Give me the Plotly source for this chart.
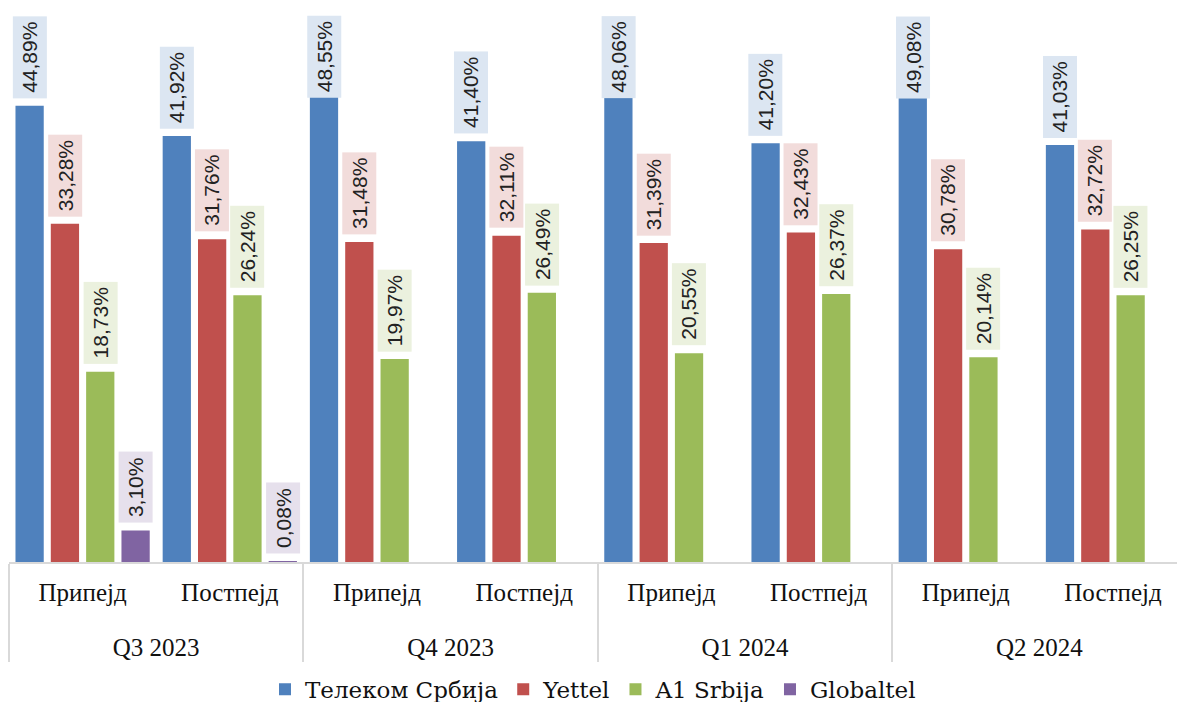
import plotly.graph_objects as go

quarters = ["Q3 2023", "Q3 2023", "Q4 2023", "Q4 2023", "Q1 2024", "Q1 2024", "Q2 2024", "Q2 2024"]
types = ["Припејд", "Постпејд"] * 4

telekom = [44.89, 41.92, 48.55, 41.40, 48.06, 41.20, 49.08, 41.03]
yettel = [33.28, 31.76, 31.48, 32.11, 31.39, 32.43, 30.78, 32.72]
a1 = [18.73, 26.24, 19.97, 26.49, 20.55, 26.37, 20.14, 26.25]
globaltel = [3.10, 0.08, None, None, None, None, None, None]

series_names = ["Телеком Србија", "Yettel", "A1 Srbija", "Globaltel"]
series_values = [telekom, yettel, a1, globaltel]
colors = ["#4F81BD", "#C0504D", "#9BBB59", "#8064A2"]
label_bg = ["#DCE6F2", "#F2DCDB", "#EBF1DE", "#E6E0EC"]

BARGAP = 0.04
LABEL_CAP = 44.89  # labels cannot rise above the chart top
SERIF = "Liberation Serif"
LEGEND_FONT = "DejaVu Serif"

fig = go.Figure()
for name, vals, col in zip(series_names, series_values, colors):
    fig.add_trace(go.Bar(
        x=[["<br>" + q for q in quarters], types], y=vals, name=name,
        marker=dict(color=col, line=dict(width=0)),
    ))

slot = (1 - BARGAP) / len(series_names)
annotations = []
for si, (vals, bg) in enumerate(zip(series_values, label_bg)):
    for ci, v in enumerate(vals):
        if v is None:
            continue
        annotations.append(dict(
            x=ci + (si - 1.5) * slot, y=min(v, LABEL_CAP), xref="x", yref="y",
            text=f"{v:.2f}".replace(".", ",") + "%",
            textangle=-90, showarrow=False, yanchor="bottom", xanchor="center",
            yshift=7, bgcolor=bg, borderpad=5,
            font=dict(family="Liberation Sans", size=21, color="#222222"),
        ))

fig.update_layout(
    template="none",
    width=1177, height=702,
    margin=dict(l=9, r=0, t=3, b=140, autoexpand=False),
    paper_bgcolor="white", plot_bgcolor="white",
    barmode="group", bargap=BARGAP, bargroupgap=0.2,
    annotations=annotations,
    showlegend=True,
    font=dict(family=SERIF, color="#111111"),
)
fig.update_layout(
    legend=dict(orientation="h", x=0.5, xanchor="center", yref="container", y=0.018, yanchor="middle",
                bgcolor="rgba(0,0,0,0)", traceorder="normal",
                font=dict(family=LEGEND_FONT, size=23, color="#111111")),
)
fig.update_xaxes(
    type="multicategory", range=[-0.5, 7.435], automargin=False,
    showline=True, linecolor="#D9D9D9", linewidth=2,
    showdividers=True, dividercolor="#D9D9D9", dividerwidth=2,
    tickfont=dict(family=SERIF, size=25, color="#111111"),
    ticklabelstandoff=7,
    showgrid=False, zeroline=False, ticks="",
)
fig.update_yaxes(range=[0, 55], visible=False, showgrid=False, zeroline=False)

fig.write_html("out.html", config={"displayModeBar": False},
               post_script="document.body.style.margin='0';document.body.style.overflow='hidden';")
